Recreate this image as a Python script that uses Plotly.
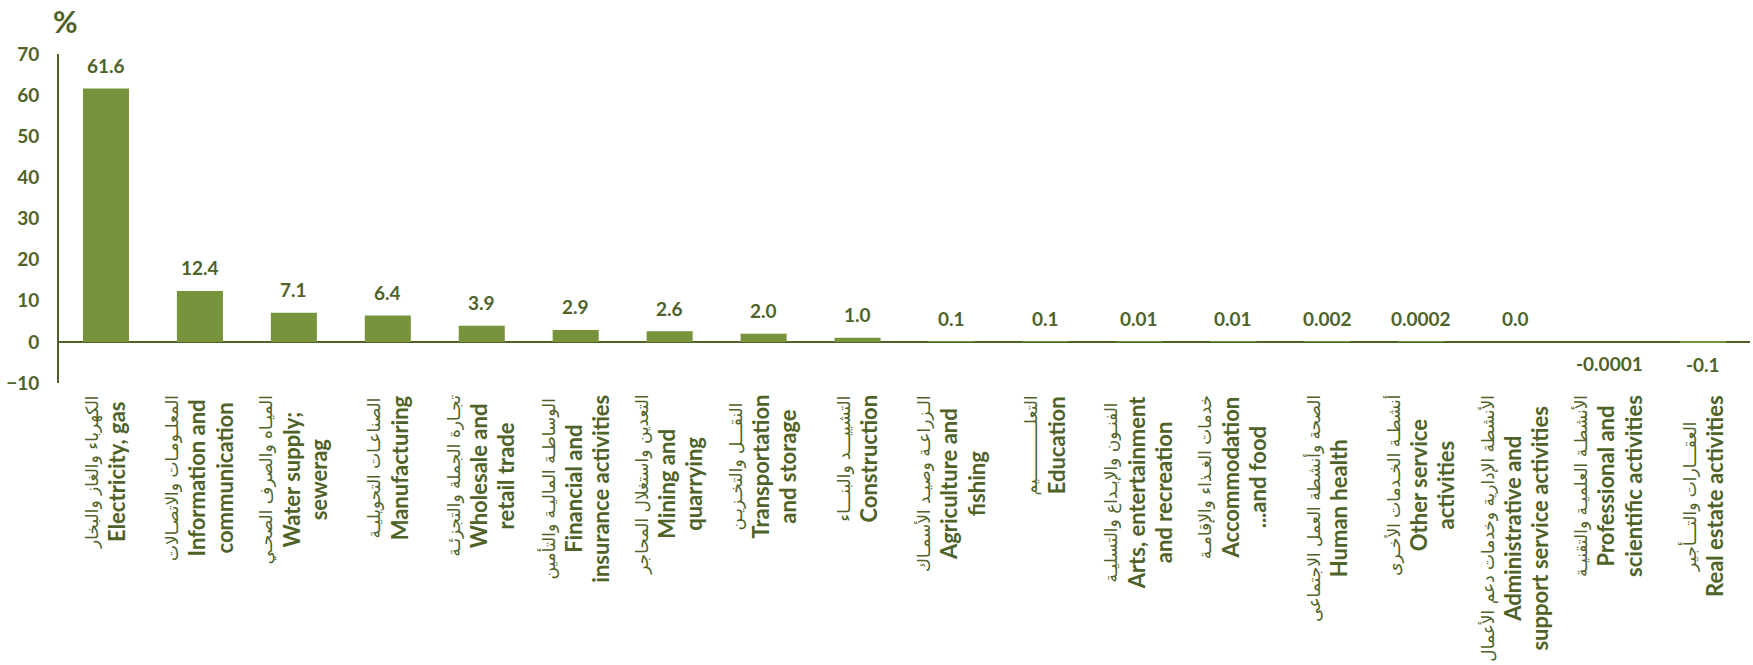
import plotly.graph_objects as go

# Sector growth shares (%)
sectors_ar = [
    "الكهرباء والغاز والبخار",
    "المعلـومـات والاتصـالات",
    "الميـاه والصرف الصحـي",
    "الصناعـات التحويليـة",
    "تجـارة الجملة والتجزئـة",
    "الوساطـة الماليـة والتأمين",
    "التعدين واستغلال المحاجر",
    "النقـــل والتخـزيـن",
    "التشييـــد والبنـــاء",
    "الـزراعـة وصيـد الأسمـاك",
    "التعلـــــــــــيم",
    "الفنـون والإبـداع والتسليـة",
    "خدمات الغـذاء والإقامـة",
    "الصحة وأنشطة العمل الاجتماعى",
    "أنشطـة الخـدمات الأخـرى",
    "الأنشطة الإدارية وخدمات دعم الأعمال",
    "الأنشطـة العلميـة والتقنيـة",
    "العقـــارات والتـــأجير",
]
sectors_en = [
    ["Electricity, gas"],
    ["Information and", "communication"],
    ["Water supply;", "sewerag"],
    ["Manufacturing"],
    ["Wholesale and", "retail trade"],
    ["Financial and", "insurance activities"],
    ["Mining and", "quarrying"],
    ["Transportation", "and storage"],
    ["Construction"],
    ["Agriculture and", "fishing"],
    ["Education"],
    ["Arts, entertainment", "and recreation"],
    ["Accommodation", "...and food"],
    ["Human health"],
    ["Other service", "activities"],
    ["Administrative and", "support service activities"],
    ["Professional and", "scientific activities"],
    ["Real estate activities"],
]
values = [61.6, 12.4, 7.1, 6.4, 3.9, 2.9, 2.6, 2.0, 1.0, 0.1, 0.1,
          0.01, 0.01, 0.002, 0.0002, 0.0, -0.0001, -0.1]
decimals = [1, 1, 1, 1, 1, 1, 1, 1, 1, 1, 1, 2, 2, 3, 4, 1, 4, 1]
y_ticks = [-10, 0, 10, 20, 30, 40, 50, 60, 70]

BAR = "#77933C"
INK = "#4F6228"
FONT = "Lato, DejaVu Sans, sans-serif"

cats = list(range(len(values)))

fig = go.Figure()
fig.add_trace(go.Bar(
    x=cats, y=values,
    marker=dict(color=BAR, line=dict(width=0)),
    hoverinfo="skip",
))

annotations = []
# value labels above / below each bar
for i, (v, d) in enumerate(zip(values, decimals)):
    annotations.append(dict(
        x=i, y=v, xref="x", yref="y",
        text=f"{v:.{d}f}",
        showarrow=False,
        yanchor="middle",
        yshift=23 if v >= 0 else -22,
        font=dict(family=FONT, size=19, color=INK, weight="bold"),
    ))

# rotated bilingual category labels under the axis
for i, (ar, en) in enumerate(zip(sectors_ar, sectors_en)):
    lines = ['<span style="font-family:DejaVu Sans;font-size:17px;font-weight:normal">' + ar + "</span>"]
    lines += ['<span style="font-size:22px">' + t + "</span>" for t in en]
    annotations.append(dict(
        x=i, y=0, xref="x", yref="paper",
        text="<br>".join(lines),
        showarrow=False,
        textangle=-90,
        align="center",
        xanchor="center", yanchor="top",
        yshift=-10,
        font=dict(family=FONT, size=21, color=INK, weight="bold"),
    ))

# unit marker above the value axis
annotations.append(dict(
    x=6 / 1691, y=1 + 33 / 329, xref="paper", yref="paper",
    text="%", showarrow=False,
    xanchor="center", yanchor="middle",
    font=dict(family=FONT, size=30, color=INK, weight="bold"),
))

fig.update_layout(
    width=1753, height=665,
    margin=dict(l=59, r=3, t=54, b=282),
    paper_bgcolor="white", plot_bgcolor="white",
    showlegend=False,
    bargap=0.51,
    annotations=annotations,
    font=dict(family=FONT, color=INK),
)
fig.update_xaxes(
    range=[-0.5, len(values) - 0.5],
    showticklabels=False, showgrid=False, showline=False,
    zeroline=False, ticks="",
)
fig.update_yaxes(
    range=[-10, 70], tickvals=y_ticks,
    showgrid=False, showline=True, linecolor=INK, linewidth=2,
    zeroline=True, zerolinecolor=INK, zerolinewidth=2,
    ticks="", ticklabelstandoff=14,
    tickfont=dict(family=FONT, size=19, color=INK, weight="bold"),
)

fig.write_html("out.html")
